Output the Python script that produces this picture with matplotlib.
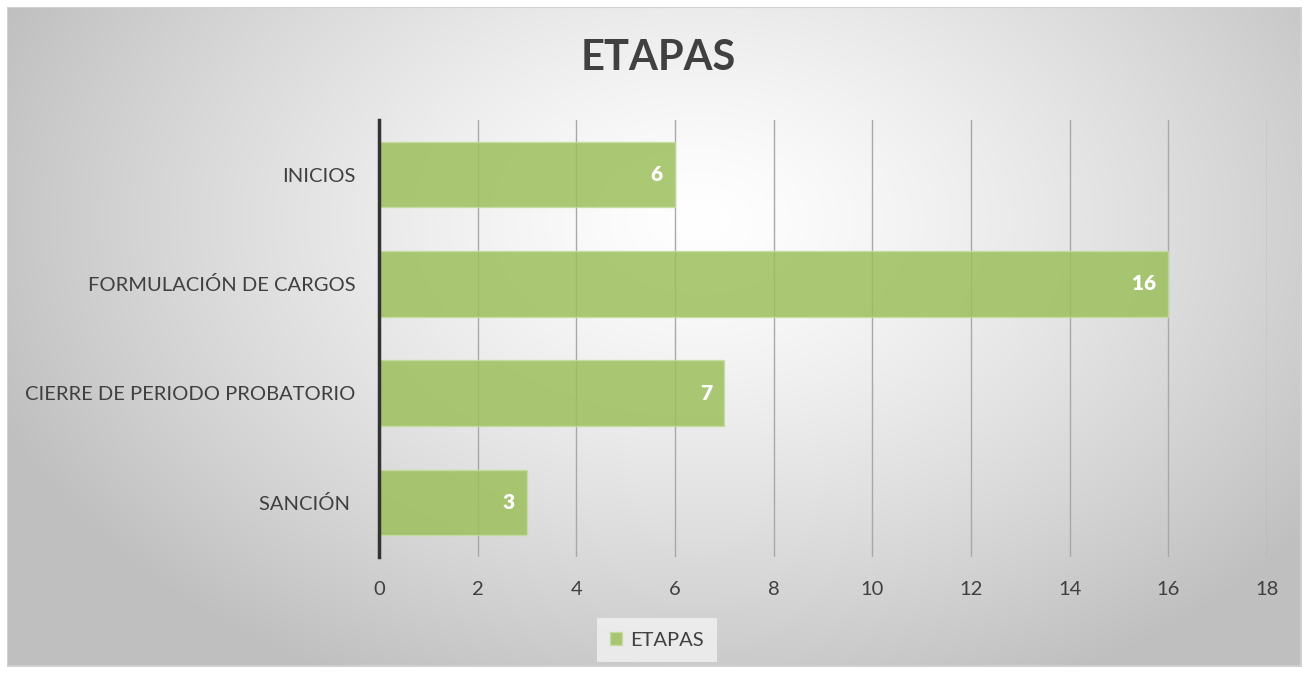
import numpy as np
import matplotlib
matplotlib.use("Agg")
import matplotlib.pyplot as plt
from matplotlib.patches import Rectangle

categories = ["INICIOS", "FORMULACIÓN DE CARGOS", "CIERRE DE PERIODO PROBATORIO", "SANCIÓN "]
values = [6, 16, 7, 3]
series_name = "ETAPAS"
title = "ETAPAS"
xticks = [0, 2, 4, 6, 8, 10, 12, 14, 16, 18]

plt.rcParams['font.family'] = ['Lato', 'DejaVu Sans']

W, H = 1308, 673
fig = plt.figure(figsize=(W/100, H/100), dpi=100)

# background radial gradient
bg = fig.add_axes([0, 0, 1, 1])
bg.set_axis_off()
yy, xx = np.mgrid[0:H, 0:W]
cx, cy = 700, 220
d = np.sqrt(((xx - cx) / 760.0) ** 2 + ((yy - cy) / 520.0) ** 2)
d = np.clip(d, 0, 1)
val = 1.0 - 0.25 * d ** 1.3
img = np.dstack([val, val, val])
bg.imshow(img, extent=[0, W, H, 0], aspect='auto')
bg.set_xlim(0, W)
bg.set_ylim(H, 0)
bg.add_patch(Rectangle((7, 7), W - 14, H - 14, fill=False, edgecolor='#d0d0d0', lw=1.5))
for r in [(0, 0, W, 6.5), (0, H - 6.5, W, 6.5), (0, 0, 6.5, H), (W - 6.5, 0, 6.5, H)]:
    bg.add_patch(Rectangle((r[0], r[1]), r[2], r[3], facecolor='white', edgecolor='none'))

# plot area
left, right = 379, 1267
top, bottom = 120, 557
ax = fig.add_axes([left / W, 1 - bottom / H, (right - left) / W, (bottom - top) / H])
ax.patch.set_alpha(0)
y = np.arange(len(categories))
bars = ax.barh(y, values, height=0.6, color='#9dc05d', alpha=0.85,
               edgecolor='#c5dca0', linewidth=1, label=series_name, zorder=3)
ax.set_ylim(len(categories) - 0.5, -0.5)
ax.set_xlim(0, 18)
ax.set_xticks(xticks)
ax.set_xticklabels([str(t) for t in xticks])
ax.set_yticks(y)
ax.set_yticklabels(categories)
ax.tick_params(axis='both', length=0, labelsize=14.5, colors='#404040')
ax.tick_params(axis='x', pad=17)
ax.tick_params(axis='y', pad=17)
for lbl in ax.get_yticklabels():
    lbl.set_va('center_baseline')
ax.grid(axis='x', color='#a8a8a8', lw=1, zorder=0)
for s in ['top', 'right', 'bottom']:
    ax.spines[s].set_visible(False)
ax.spines['left'].set_color('#333333')
ax.spines['left'].set_linewidth(2.5)
ax.spines['left'].set_zorder(5)

for yi, v in zip(y, values):
    ax.text(v - 0.25, yi, str(v), ha='right', va='center', color='white',
            fontsize=15, fontweight='heavy', zorder=4)

fig.text(658 / W, 1 - 58 / H, title, ha='center', va='center', fontsize=30,
         fontweight='bold', color='#404040')

leg = fig.legend(loc='center', bbox_to_anchor=(657 / W, 1 - 640 / H), frameon=True,
                 fontsize=14.5, handlelength=0.6, handleheight=0.6, handletextpad=0.4,
                 borderpad=0.65, fancybox=False)
leg.get_frame().set_facecolor('#f2f2f2')
leg.get_frame().set_edgecolor('none')
for t in leg.get_texts():
    t.set_color('#404040')

fig.savefig('out.png', dpi=100)
